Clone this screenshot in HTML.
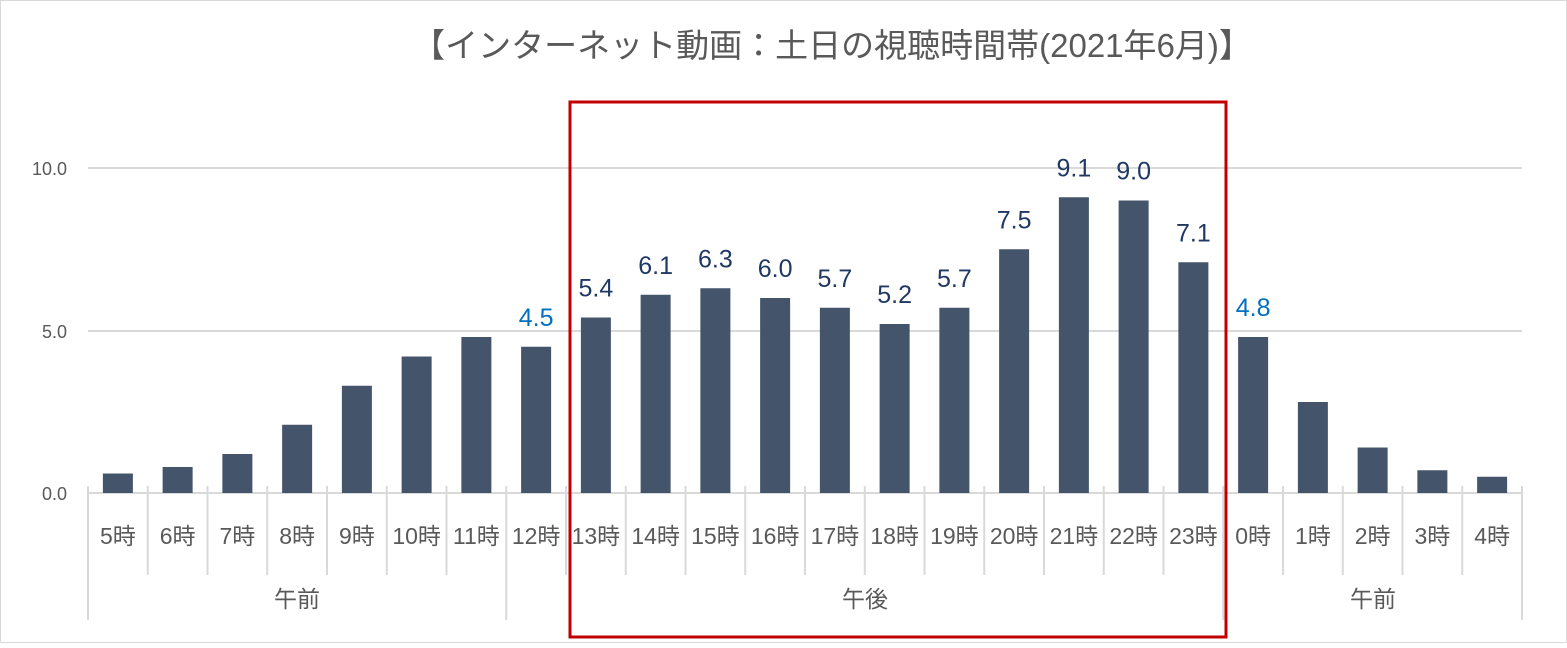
<!DOCTYPE html>
<html><head><meta charset="utf-8"><style>
body{margin:0;background:#fff}
svg text{font-family:"Liberation Sans","Noto Sans CJK JP",sans-serif}
</style></head><body>
<svg width="1567" height="643" xmlns="http://www.w3.org/2000/svg">
<rect x="0.5" y="0.5" width="1566" height="642" fill="#fff" stroke="#d9d9d9"/>
<text x="832" y="57" font-size="33" fill="#595959" text-anchor="middle">【インターネット動画：土日の視聴時間帯(2021年6月)】</text>
<g stroke="#d9d9d9" stroke-width="2">
<line x1="88" y1="168" x2="1522" y2="168"/>
<line x1="88" y1="331" x2="1522" y2="331"/>
<line x1="88" y1="493" x2="1522" y2="493"/>
</g>
<g font-size="18" fill="#595959" text-anchor="end">
<text x="67" y="175">10.0</text><text x="67" y="338">5.0</text><text x="67" y="500">0.0</text>
</g>
<g id="bars"></g>
<g id="ticks" stroke="#d9d9d9" stroke-width="2"></g>
<g id="labs" font-size="23" fill="#595959" text-anchor="middle"></g>
<g font-size="23" fill="#595959" text-anchor="middle">
<text x="297" y="607">午前</text><text x="865" y="607">午後</text><text x="1373" y="607">午前</text>
</g>
<rect x="570" y="102" width="656" height="535" fill="none" stroke="#c00000" stroke-width="3"/>
<script>
var v=[0.6,0.8,1.2,2.1,3.3,4.2,4.8,4.5,5.4,6.1,6.3,6.0,5.7,5.2,5.7,7.5,9.1,9.0,7.1,4.8,2.8,1.4,0.7,0.5];
var h=[5,6,7,8,9,10,11,12,13,14,15,16,17,18,19,20,21,22,23,0,1,2,3,4];
var ns="http://www.w3.org/2000/svg",w=59.75;
var bars=document.getElementById("bars"),t=document.getElementById("ticks"),l=document.getElementById("labs");
function mk(p,tag,a,tx){var e=document.createElementNS(ns,tag);for(var k in a)e.setAttribute(k,a[k]);if(tx!==undefined)e.textContent=tx;p.appendChild(e);}
for(var i=0;i<24;i++){var c=88+w*(i+0.5),hh=v[i]*32.5;
mk(bars,"rect",{x:c-15,y:493-hh,width:30,height:hh,fill:"#44546a"});
if(i>=7&&i<=19){mk(l,"text",{x:c,y:493-hh-21,"font-size":25,fill:(i==7||i==19)?"#0070c0":"#1f3864"},v[i].toFixed(1));}
mk(l,"text",{x:c,y:544},h[i]+"時");}
for(var i=0;i<=24;i++){var x=88+w*i,g=(i==0||i==7||i==19||i==24);
mk(t,"line",{x1:x,y1:486,x2:x,y2:g?620:575});}
</script>
</svg>
</body></html>
